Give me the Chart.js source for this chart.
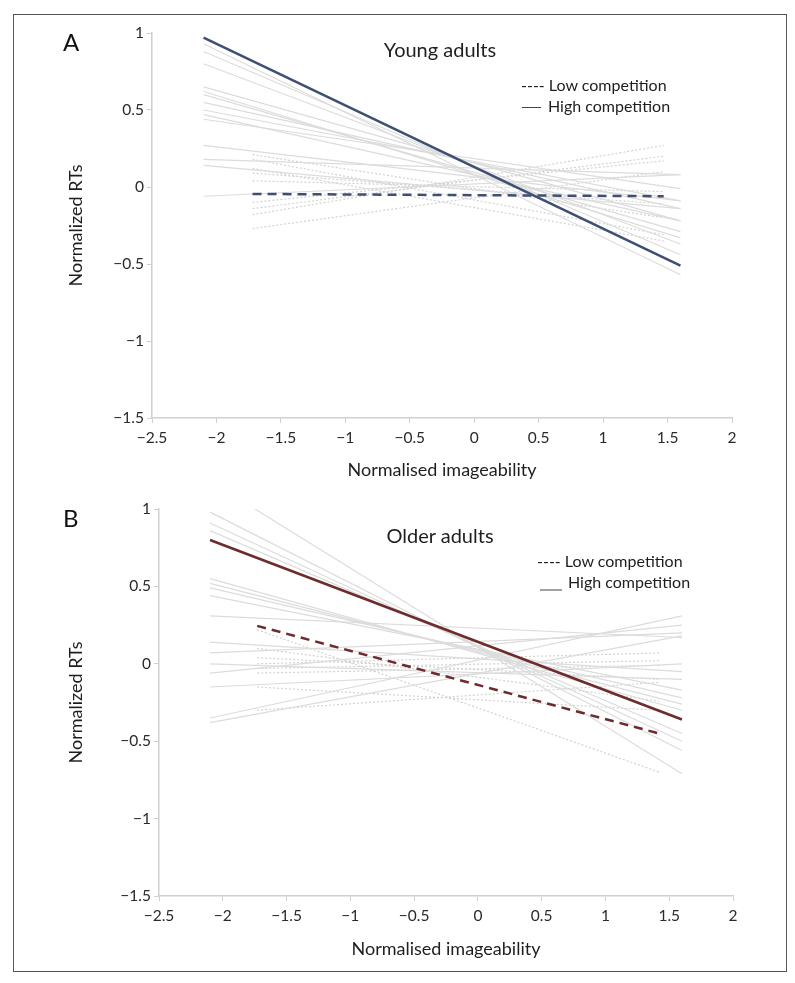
<!DOCTYPE html>
<html>
<head>
<meta charset="utf-8">
<script src="https://cdn.jsdelivr.net/npm/chart.js@4/dist/chart.umd.min.js"></script>
<style>
  body { margin: 0; background: #fff; font-family: Lato, "Open Sans", sans-serif; }
  #page { position: relative; width: 795px; height: 983px; }
  #frame { position: absolute; left: 13px; top: 14px; width: 772px; height: 956px; border: 1.5px solid #555; }
  .cv { position: absolute; left: 0; }
  .txt { position: absolute; color: #1e1e1e; white-space: nowrap; line-height: 1; }
  .panel { font-size: 24px; color: #111; }
  .ttl { font-size: 20px; transform: translate(-50%, -50%); }
  .leg { font-size: 16px; transform: translateY(-50%); }
  .dash { display: inline-block; width: 19px; border-top: 1.5px solid #444; vertical-align: middle; margin-right: 7px; }
  .under { display: inline-block; width: 22px; border-top: 1.5px solid #444; vertical-align: -3px; margin-right: 6px; }
</style>
</head>
<body>
<div id="page">
  <div id="frame"></div>
  <canvas id="young" class="cv" width="795" height="490" style="top:0"></canvas>
  <canvas id="older" class="cv" width="795" height="493" style="top:490px"></canvas>

  <div class="txt panel" style="left:63px; top:30px">A</div>
  <div class="txt ttl" style="left:440px; top:49px">Young adults</div>
  <div class="txt leg" style="left:521px; top:85px">---- Low competition</div>
  <div class="txt leg" style="left:522px; top:106px"><span class="dash"></span>High competition</div>

  <div class="txt panel" style="left:63px; top:506px">B</div>
  <div class="txt ttl" style="left:440px; top:535px">Older adults</div>
  <div class="txt leg" style="left:537px; top:561px">---- Low competition</div>
  <div class="txt leg" style="left:540px; top:582px"><span class="under"></span>High competition</div>
</div>
<script>
// x extent of the fitted lines
const highX = [-2.1, 1.6];
const youngLowX = [-1.72, 1.47];
const olderLowX = [-1.73, 1.42];

// group means (value at left end, value at right end)
const youngHighMean = [0.97, -0.51];
const youngLowMean = [-0.045, -0.06];
const olderHighMean = [0.80, -0.36];
const olderLowMean = [0.245, -0.45];

// individual participants, young adults
const youngHighStart = [0.93, 0.88, 0.80, 0.65, 0.62, 0.60, 0.55, 0.50, 0.47, 0.44, 0.27, 0.18, 0.14, -0.06];
const youngHighEnd   = [-0.57, -0.44, -0.37, -0.22, -0.33, -0.29, -0.14, -0.09, -0.22, -0.01, -0.09, 0.08, -0.14, 0.08];
const youngLowStart  = [0.21, 0.18, 0.12, 0.09, 0.04, -0.10, -0.14, -0.18, -0.27];
const youngLowEnd    = [-0.20, -0.31, -0.35, -0.11, -0.03, 0.17, 0.20, 0.27, 0.10];

// individual participants, older adults
const olderHighStart = [1.18, 0.98, 0.91, 0.86, 0.55, 0.52, 0.49, 0.44, 0.31, 0.14, 0.07, 0.00, -0.06, -0.15, -0.35, -0.38];
const olderHighEnd   = [-0.71, -0.56, -0.50, -0.45, -0.30, -0.26, -0.22, -0.17, 0.17, -0.05, 0.20, -0.10, 0.25, 0.00, 0.31, 0.18];
const olderLowStart  = [0.22, 0.10, 0.04, 0.00, -0.03, -0.06, -0.15, -0.30];
const olderLowEnd    = [-0.70, -0.24, -0.10, 0.07, 0.02, -0.01, -0.30, -0.12];

const xTicks = [-2.5, -2, -1.5, -1, -0.5, 0, 0.5, 1, 1.5, 2];
const yTicks = [-1.5, -1, -0.5, 0, 0.5, 1];

const FONT = 'Lato, "Open Sans", sans-serif';
const AXIS = '#d0d0d0';

function seg(xs, a, b) {
  return [{x: xs[0], y: a}, {x: xs[1], y: b}];
}

function buildSets(meanColor, hiMean, loMean, loX, hiS, hiE, loS, loE) {
  const sets = [];
  sets.push({data: seg(highX, hiMean[0], hiMean[1]), borderColor: meanColor, borderWidth: 2.5});
  sets.push({data: seg(loX, loMean[0], loMean[1]), borderColor: meanColor, borderWidth: 2.5, borderDash: [9, 6]});
  hiS.forEach((v, i) => sets.push({data: seg(highX, v, hiE[i]), borderColor: '#dcdcdc', borderWidth: 1.2}));
  loS.forEach((v, i) => sets.push({data: seg(loX, v, loE[i]), borderColor: '#d2d2d2', borderWidth: 1.2, borderDash: [2, 2]}));
  return sets;
}

function fmt(v) {
  return v < 0 ? '\u2212' + Math.abs(v) : String(v);
}

function makeChart(id, sets, pad, yWidth, xHeight, xTitlePad) {
  new Chart(document.getElementById(id), {
    type: 'scatter',
    data: {datasets: sets},
    options: {
      responsive: false,
      animation: false,
      showLine: true,
      elements: {point: {radius: 0}, line: {tension: 0}},
      layout: {padding: pad},
      plugins: {legend: {display: false}, tooltip: {enabled: false}},
      scales: {
        x: {
          type: 'linear', min: -2.5, max: 2,
          afterBuildTicks: s => { s.ticks = xTicks.map(v => ({value: v})); },
          afterFit: s => { s.height = xHeight; },
          ticks: {callback: fmt, color: '#2a2a2a', font: {family: FONT, size: 15.5}, padding: 6, autoSkip: false, maxRotation: 0},
          grid: {drawOnChartArea: false, color: AXIS, tickLength: 5},
          border: {color: AXIS, width: 1.5},
          title: {display: true, text: 'Normalised imageability', color: '#1e1e1e', font: {family: FONT, size: 18}, padding: {top: 0, bottom: xTitlePad}}
        },
        y: {
          type: 'linear', min: -1.5, max: 1,
          afterBuildTicks: s => { s.ticks = yTicks.map(v => ({value: v})); },
          afterFit: s => { s.width = yWidth; },
          ticks: {callback: fmt, color: '#2a2a2a', font: {family: FONT, size: 15.5}, padding: 3},
          grid: {drawOnChartArea: false, color: AXIS, tickLength: 5},
          border: {color: AXIS, width: 1.5},
          title: {display: true, text: 'Normalized RTs', color: '#1e1e1e', font: {family: FONT, size: 18}, padding: {top: 65, bottom: 0}}
        }
      }
    }
  });
}

makeChart('young',
  buildSets('#3e4f73', youngHighMean, youngLowMean, youngLowX, youngHighStart, youngHighEnd, youngLowStart, youngLowEnd),
  {left: 0, top: 33, right: 63, bottom: 0}, 152, 72, 9);

makeChart('older',
  buildSets('#6e2b2e', olderHighMean, olderLowMean, olderLowX, olderHighStart, olderHighEnd, olderLowStart, olderLowEnd),
  {left: 0, top: 19, right: 62, bottom: 0}, 159, 87, 23);
</script>
</body>
</html>
